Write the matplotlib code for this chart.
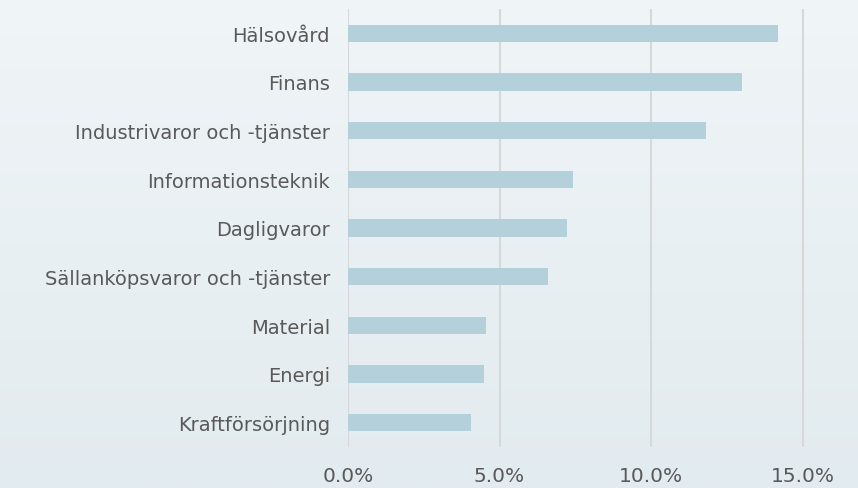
import matplotlib
matplotlib.use("Agg")
import matplotlib.pyplot as plt
import numpy as np
from matplotlib.colors import LinearSegmentedColormap

categories = ["Hälsovård", "Finans", "Industrivaror och -tjänster", "Informationsteknik",
              "Dagligvaror", "Sällanköpsvaror och -tjänster", "Material", "Energi",
              "Kraftförsörjning"]
values = [14.18, 12.99, 11.8, 7.42, 7.23, 6.6, 4.54, 4.48, 4.05]
xticks = [0, 5, 10, 15]
xticklabels = ["0.0%", "5.0%", "10.0%", "15.0%"]

plt.rcParams['font.family'] = ['DejaVu Sans']

fig = plt.figure(figsize=(8.58, 4.89), dpi=100)

# background gradient
bg = fig.add_axes([0, 0, 1, 1], zorder=-10)
cmap = LinearSegmentedColormap.from_list("bg", ["#f0f5f7", "#e2ebef"])
grad = np.linspace(0, 1, 256).reshape(-1, 1)
bg.imshow(grad, aspect="auto", cmap=cmap, extent=[0, 1, 0, 1], origin="upper")
bg.axis("off")

ax = fig.add_axes([348/858, 1 - 448/489, 1 - 348/858, (448 - 10)/489])
ax.set_facecolor("none")
y = np.arange(len(categories))
ax.barh(y, values, height=0.35, color="#b4d0db", zorder=3)
ax.set_ylim(len(categories) - 0.5, -0.5)
ax.set_xlim(0, (858 - 348) / 30.3)
ax.set_yticks(y)
ax.set_yticklabels(categories, fontsize=14, color="#595959")
ax.set_xticks(xticks)
ax.set_xticklabels(xticklabels, fontsize=14.5, color="#595959")
ax.tick_params(axis="both", length=0)
ax.tick_params(axis="y", pad=13)
ax.tick_params(axis="x", pad=14)
for s in ax.spines.values():
    s.set_visible(False)
ax.grid(axis="x", color="#d6d8d9", linewidth=1.5, zorder=0)
ax.set_axisbelow(True)

fig.savefig("out.png", dpi=100)
